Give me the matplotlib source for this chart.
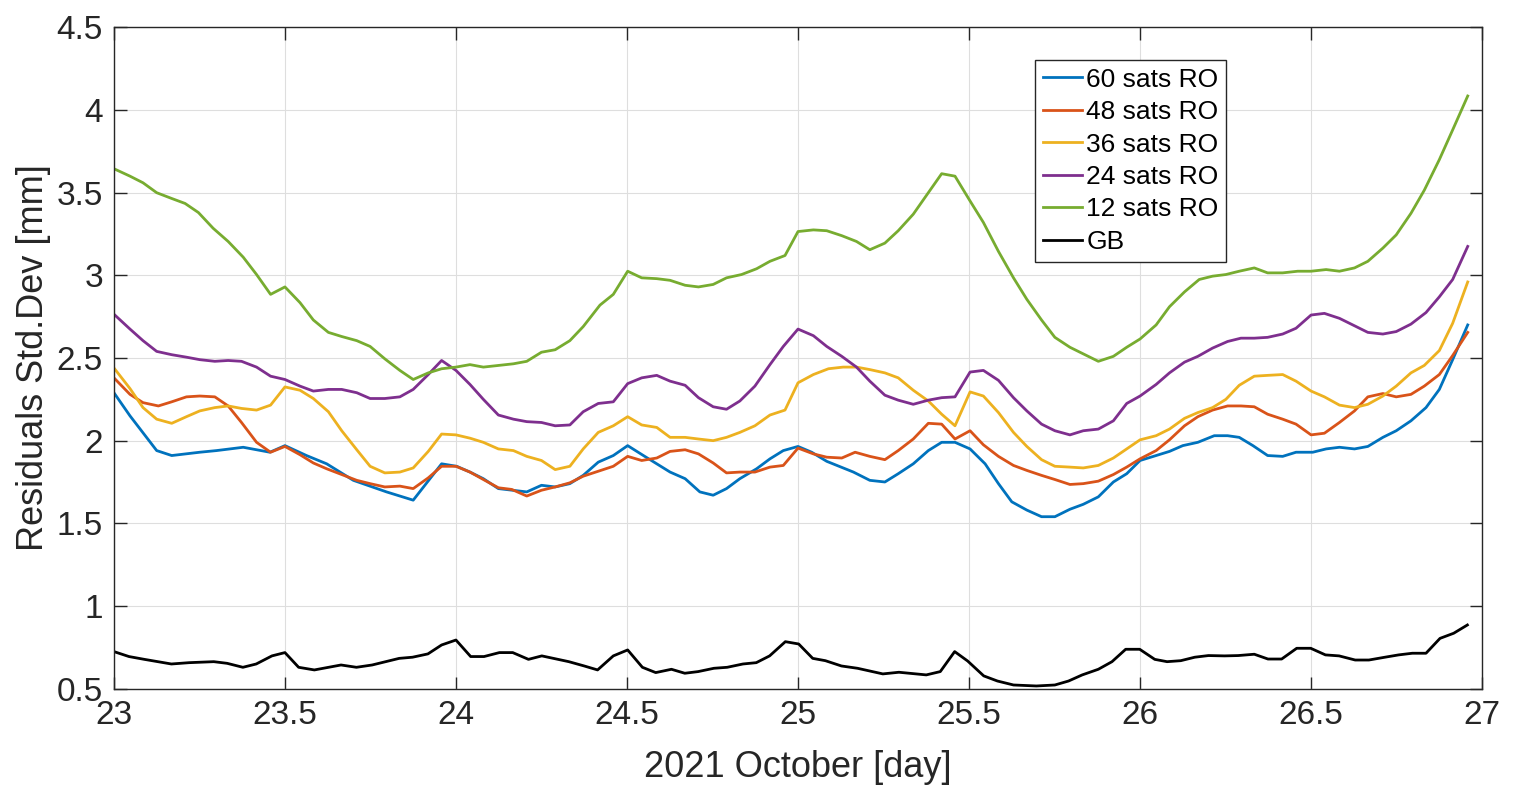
import numpy as np
import matplotlib
matplotlib.use("Agg")
import matplotlib.pyplot as plt
from matplotlib.ticker import FormatStrFormatter, MultipleLocator

plt.rcParams['font.family'] = ['Liberation Sans', 'DejaVu Sans']

# (day, std.dev [mm])
ro60 = [(23.000, 2.29), (23.047, 2.15), (23.125, 1.94), (23.169, 1.91), (23.251, 1.93), (23.300, 1.94),
        (23.378, 1.96), (23.456, 1.93), (23.500, 1.97), (23.563, 1.91), (23.622, 1.86), (23.700, 1.76),
        (23.797, 1.69), (23.875, 1.64), (23.958, 1.86), (24.002, 1.845), (24.041, 1.81), (24.080, 1.77),
        (24.124, 1.71), (24.207, 1.69), (24.250, 1.73), (24.290, 1.72), (24.333, 1.74), (24.372, 1.79),
        (24.416, 1.87), (24.460, 1.91), (24.502, 1.97), (24.548, 1.91), (24.626, 1.81), (24.670, 1.77),
        (24.713, 1.69), (24.752, 1.67), (24.791, 1.71), (24.830, 1.77), (24.879, 1.83), (24.918, 1.89),
        (24.957, 1.94), (25.000, 1.965), (25.040, 1.93), (25.084, 1.875), (25.162, 1.81), (25.210, 1.76),
        (25.254, 1.75), (25.293, 1.80), (25.337, 1.86), (25.381, 1.94), (25.420, 1.99), (25.459, 1.99),
        (25.503, 1.95), (25.547, 1.86), (25.586, 1.74), (25.625, 1.63), (25.669, 1.58), (25.712, 1.54),
        (25.751, 1.54), (25.795, 1.585), (25.834, 1.615), (25.878, 1.66), (25.922, 1.75), (25.961, 1.80),
        (26.000, 1.88), (26.047, 1.91), (26.086, 1.935), (26.125, 1.97), (26.169, 1.99), (26.217, 2.03),
        (26.256, 2.03), (26.290, 2.02), (26.330, 1.97), (26.373, 1.91), (26.417, 1.905), (26.456, 1.93),
        (26.505, 1.93), (26.544, 1.95), (26.583, 1.96), (26.627, 1.95), (26.666, 1.965), (26.710, 2.02),
        (26.749, 2.06), (26.792, 2.12), (26.836, 2.20), (26.875, 2.31), (26.914, 2.49), (26.958, 2.70)]

ro48 = [(23.000, 2.38), (23.047, 2.28), (23.085, 2.23), (23.130, 2.21), (23.169, 2.235), (23.212, 2.265),
        (23.251, 2.27), (23.295, 2.265), (23.334, 2.21), (23.373, 2.11), (23.417, 1.99), (23.458, 1.93),
        (23.500, 1.965), (23.544, 1.915), (23.583, 1.865), (23.622, 1.83), (23.666, 1.795), (23.710, 1.76),
        (23.749, 1.74), (23.792, 1.72), (23.836, 1.725), (23.875, 1.71), (23.919, 1.775), (23.958, 1.845),
        (24.000, 1.845), (24.041, 1.81), (24.080, 1.765), (24.124, 1.715), (24.163, 1.705), (24.207, 1.665),
        (24.250, 1.70), (24.290, 1.72), (24.333, 1.745), (24.372, 1.785), (24.416, 1.815), (24.460, 1.845),
        (24.502, 1.905), (24.543, 1.88), (24.587, 1.895), (24.626, 1.935), (24.670, 1.945), (24.709, 1.92),
        (24.752, 1.865), (24.791, 1.805), (24.830, 1.81), (24.874, 1.81), (24.918, 1.84), (24.957, 1.85),
        (25.000, 1.955), (25.045, 1.92), (25.084, 1.90), (25.128, 1.895), (25.167, 1.93), (25.210, 1.905),
        (25.254, 1.885), (25.293, 1.94), (25.337, 2.01), (25.381, 2.105), (25.420, 2.10), (25.459, 2.01),
        (25.503, 2.06), (25.542, 1.975), (25.586, 1.905), (25.630, 1.85), (25.669, 1.82), (25.712, 1.79),
        (25.751, 1.765), (25.795, 1.735), (25.834, 1.74), (25.878, 1.755), (25.922, 1.795), (25.961, 1.84),
        (26.000, 1.89), (26.047, 1.94), (26.086, 2.005), (26.130, 2.09), (26.169, 2.145), (26.212, 2.185),
        (26.256, 2.21), (26.295, 2.21), (26.334, 2.205), (26.373, 2.16), (26.417, 2.13), (26.456, 2.10),
        (26.500, 2.035), (26.539, 2.045), (26.583, 2.11), (26.627, 2.18), (26.666, 2.265), (26.710, 2.285),
        (26.749, 2.265), (26.792, 2.28), (26.831, 2.33), (26.875, 2.40), (26.914, 2.515), (26.958, 2.655)]

ro36 = [(23.000, 2.44), (23.047, 2.315), (23.085, 2.20), (23.125, 2.13), (23.169, 2.105), (23.212, 2.145),
        (23.251, 2.18), (23.295, 2.20), (23.334, 2.21), (23.373, 2.195), (23.417, 2.185), (23.458, 2.215),
        (23.500, 2.325), (23.544, 2.305), (23.583, 2.255), (23.627, 2.175), (23.666, 2.06), (23.710, 1.945),
        (23.749, 1.845), (23.792, 1.805), (23.836, 1.81), (23.875, 1.835), (23.919, 1.935), (23.958, 2.04),
        (24.000, 2.035), (24.041, 2.015), (24.080, 1.99), (24.124, 1.95), (24.168, 1.94), (24.207, 1.905),
        (24.250, 1.88), (24.290, 1.825), (24.333, 1.845), (24.372, 1.95), (24.416, 2.05), (24.460, 2.09),
        (24.502, 2.145), (24.543, 2.095), (24.587, 2.08), (24.626, 2.02), (24.670, 2.02), (24.709, 2.01),
        (24.752, 2.00), (24.791, 2.02), (24.830, 2.05), (24.874, 2.09), (24.918, 2.155), (24.962, 2.185),
        (25.000, 2.35), (25.045, 2.40), (25.089, 2.435), (25.132, 2.445), (25.171, 2.445), (25.210, 2.43),
        (25.254, 2.41), (25.293, 2.38), (25.337, 2.305), (25.381, 2.24), (25.420, 2.16), (25.459, 2.09),
        (25.503, 2.295), (25.542, 2.27), (25.586, 2.17), (25.630, 2.05), (25.669, 1.965), (25.712, 1.885),
        (25.751, 1.845), (25.795, 1.84), (25.834, 1.835), (25.878, 1.85), (25.922, 1.895), (25.961, 1.95),
        (26.000, 2.005), (26.047, 2.03), (26.086, 2.07), (26.130, 2.135), (26.169, 2.17), (26.212, 2.20),
        (26.251, 2.25), (26.290, 2.335), (26.334, 2.39), (26.373, 2.395), (26.417, 2.40), (26.456, 2.36),
        (26.500, 2.30), (26.539, 2.265), (26.583, 2.215), (26.627, 2.20), (26.666, 2.22), (26.710, 2.27),
        (26.749, 2.33), (26.792, 2.41), (26.831, 2.455), (26.875, 2.545), (26.914, 2.71), (26.958, 2.96)]

ro24 = [(23.000, 2.765), (23.047, 2.675), (23.085, 2.605), (23.125, 2.54), (23.169, 2.52), (23.212, 2.505),
        (23.251, 2.49), (23.295, 2.48), (23.334, 2.485), (23.373, 2.48), (23.417, 2.445), (23.458, 2.39),
        (23.500, 2.37), (23.544, 2.33), (23.583, 2.30), (23.627, 2.31), (23.666, 2.31), (23.710, 2.29),
        (23.749, 2.255), (23.792, 2.255), (23.836, 2.265), (23.875, 2.31), (23.919, 2.40), (23.958, 2.485),
        (24.000, 2.425), (24.041, 2.34), (24.080, 2.25), (24.124, 2.155), (24.168, 2.13), (24.207, 2.115),
        (24.250, 2.11), (24.290, 2.09), (24.333, 2.095), (24.372, 2.175), (24.416, 2.225), (24.460, 2.235),
        (24.502, 2.345), (24.543, 2.38), (24.587, 2.395), (24.626, 2.36), (24.670, 2.335), (24.709, 2.26),
        (24.752, 2.205), (24.791, 2.19), (24.830, 2.24), (24.874, 2.33), (24.918, 2.46), (24.957, 2.57),
        (25.000, 2.675), (25.045, 2.635), (25.084, 2.57), (25.128, 2.51), (25.171, 2.445), (25.210, 2.36),
        (25.254, 2.275), (25.293, 2.245), (25.337, 2.22), (25.381, 2.245), (25.420, 2.26), (25.459, 2.265),
        (25.503, 2.415), (25.542, 2.425), (25.586, 2.365), (25.630, 2.26), (25.669, 2.18), (25.712, 2.10),
        (25.751, 2.06), (25.795, 2.035), (25.834, 2.06), (25.878, 2.07), (25.922, 2.12), (25.961, 2.225),
        (26.000, 2.27), (26.047, 2.34), (26.086, 2.41), (26.130, 2.475), (26.169, 2.51), (26.212, 2.56),
        (26.256, 2.60), (26.295, 2.62), (26.334, 2.62), (26.373, 2.625), (26.417, 2.645), (26.456, 2.68),
        (26.500, 2.76), (26.539, 2.77), (26.583, 2.74), (26.627, 2.695), (26.666, 2.655), (26.710, 2.645),
        (26.749, 2.66), (26.792, 2.705), (26.836, 2.775), (26.875, 2.87), (26.914, 2.975), (26.958, 3.175)]

ro12 = [(23.000, 3.645), (23.047, 3.60), (23.085, 3.56), (23.125, 3.50), (23.169, 3.465), (23.208, 3.435),
        (23.247, 3.38), (23.290, 3.285), (23.334, 3.205), (23.378, 3.11), (23.417, 3.005), (23.458, 2.885),
        (23.500, 2.93), (23.544, 2.835), (23.583, 2.73), (23.627, 2.655), (23.666, 2.63), (23.710, 2.605),
        (23.749, 2.57), (23.792, 2.495), (23.836, 2.425), (23.875, 2.37), (23.919, 2.41), (23.958, 2.435),
        (24.000, 2.445), (24.041, 2.46), (24.080, 2.445), (24.124, 2.455), (24.168, 2.465), (24.207, 2.48),
        (24.250, 2.535), (24.290, 2.55), (24.333, 2.605), (24.372, 2.69), (24.421, 2.82), (24.460, 2.885),
        (24.502, 3.025), (24.543, 2.985), (24.587, 2.98), (24.626, 2.97), (24.670, 2.94), (24.709, 2.93),
        (24.752, 2.945), (24.791, 2.985), (24.835, 3.005), (24.879, 3.04), (24.918, 3.085), (24.962, 3.12),
        (25.000, 3.265), (25.045, 3.275), (25.084, 3.27), (25.128, 3.24), (25.171, 3.205), (25.210, 3.155),
        (25.254, 3.195), (25.293, 3.27), (25.337, 3.37), (25.381, 3.50), (25.420, 3.615), (25.459, 3.60),
        (25.503, 3.45), (25.542, 3.32), (25.586, 3.145), (25.630, 2.985), (25.669, 2.855), (25.712, 2.73),
        (25.751, 2.625), (25.795, 2.565), (25.834, 2.525), (25.878, 2.48), (25.922, 2.51), (25.961, 2.565),
        (26.000, 2.615), (26.047, 2.70), (26.086, 2.81), (26.130, 2.90), (26.173, 2.975), (26.212, 2.995),
        (26.251, 3.005), (26.290, 3.025), (26.334, 3.045), (26.373, 3.015), (26.417, 3.015), (26.461, 3.025),
        (26.500, 3.025), (26.544, 3.035), (26.583, 3.025), (26.627, 3.045), (26.666, 3.085), (26.710, 3.165),
        (26.749, 3.245), (26.792, 3.375), (26.831, 3.515), (26.875, 3.70), (26.914, 3.88), (26.958, 4.085)]

gb = [(23.000, 0.724), (23.044, 0.694), (23.089, 0.677), (23.168, 0.649), (23.220, 0.657), (23.292, 0.663),
      (23.331, 0.653), (23.377, 0.629), (23.416, 0.649), (23.462, 0.698), (23.500, 0.718), (23.540, 0.629),
      (23.586, 0.613), (23.664, 0.643), (23.709, 0.629), (23.755, 0.643), (23.834, 0.683), (23.873, 0.690),
      (23.918, 0.710), (23.958, 0.764), (24.000, 0.794), (24.043, 0.694), (24.082, 0.694), (24.127, 0.718),
      (24.166, 0.718), (24.212, 0.677), (24.251, 0.698), (24.330, 0.663), (24.375, 0.637), (24.414, 0.613),
      (24.460, 0.698), (24.502, 0.734), (24.545, 0.629), (24.584, 0.597), (24.630, 0.617), (24.669, 0.593),
      (24.708, 0.603), (24.754, 0.623), (24.793, 0.629), (24.839, 0.649), (24.878, 0.657), (24.917, 0.698),
      (24.963, 0.784), (25.002, 0.770), (25.043, 0.683), (25.080, 0.669), (25.127, 0.637), (25.174, 0.623),
      (25.248, 0.589), (25.295, 0.599), (25.375, 0.583), (25.416, 0.603), (25.458, 0.724), (25.496, 0.667),
      (25.543, 0.577), (25.583, 0.546), (25.630, 0.522), (25.697, 0.516), (25.751, 0.522), (25.791, 0.546),
      (25.831, 0.583), (25.878, 0.617), (25.918, 0.663), (25.958, 0.738), (25.999, 0.738), (26.043, 0.677),
      (26.079, 0.663), (26.119, 0.669), (26.160, 0.690), (26.200, 0.700), (26.247, 0.698), (26.287, 0.700),
      (26.334, 0.708), (26.374, 0.679), (26.414, 0.679), (26.458, 0.744), (26.499, 0.744), (26.542, 0.704),
      (26.582, 0.698), (26.629, 0.673), (26.669, 0.673), (26.716, 0.690), (26.756, 0.704), (26.796, 0.714),
      (26.836, 0.714), (26.877, 0.804), (26.917, 0.835), (26.957, 0.885)]

series = [ro60, ro48, ro36, ro24, ro12, gb]
labels = ['60 sats RO', '48 sats RO', '36 sats RO', '24 sats RO', '12 sats RO', 'GB']
colors = ['#0072BD', '#D95319', '#EDB120', '#7E2F8E', '#77AC30', '#000000']

fig = plt.figure(figsize=(15.19, 8.01), dpi=100)
ax = fig.add_axes([0.075, 0.1403, 0.9007, 0.8255])

for pts, lab, col in zip(series, labels, colors):
    t, v = np.array(pts).T
    ax.plot(t, v, color=col, lw=2.0, label=lab)

ax.set_xlim(23, 27)
ax.set_ylim(0.5, 4.5)
ax.xaxis.set_major_locator(MultipleLocator(0.5))
ax.yaxis.set_major_locator(MultipleLocator(0.5))
ax.xaxis.set_major_formatter(FormatStrFormatter('%g'))
ax.yaxis.set_major_formatter(FormatStrFormatter('%g'))

ax.grid(True, color='#dedede', lw=0.8)
ax.set_axisbelow(True)
for s in ax.spines.values():
    s.set_color('#262626')
    s.set_linewidth(1.0)
ax.tick_params(direction='in', length=9, width=1.0, colors='#262626',
               labelsize=24, top=True, right=True, pad=8)

ax.set_xlabel('2021 October [day]', fontsize=26, color='#262626', labelpad=14)
ax.set_ylabel('Residuals Std.Dev [mm]', fontsize=26, color='#262626', labelpad=4)

leg = ax.legend(loc='upper left', bbox_to_anchor=(0.673, 0.951), fontsize=19,
                frameon=True, fancybox=False, edgecolor='#262626', framealpha=1,
                handlelength=1.5, handletextpad=0.15, labelspacing=0.32,
                borderpad=0.3, borderaxespad=0)
leg.get_frame().set_linewidth(1.0)

plt.savefig('out.png', dpi=100)
